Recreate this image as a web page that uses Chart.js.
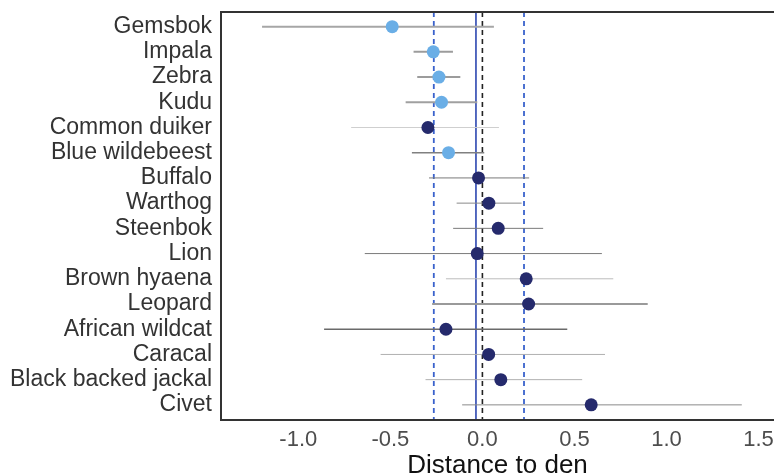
<!DOCTYPE html>
<html><head><meta charset="utf-8">
<script src="https://cdn.jsdelivr.net/npm/chart.js@4.4.0/dist/chart.umd.min.js"></script>
<style>html,body{margin:0;padding:0;background:#fff}#wrap{width:774px;height:476px}</style>
</head><body><div id="wrap"><canvas id="c" width="774" height="476"></canvas></div>
<script>
// ---- data ----
const species = ['Gemsbok','Impala','Zebra','Kudu','Common duiker','Blue wildebeest','Buffalo','Warthog','Steenbok','Lion','Brown hyaena','Leopard','African wildcat','Caracal','Black backed jackal','Civet'];
const estimate = [-0.49,-0.267,-0.236,-0.222,-0.296,-0.184,-0.021,0.035,0.086,-0.028,0.238,0.251,-0.198,0.034,0.10,0.591];
const lower    = [-1.197,-0.374,-0.354,-0.417,-0.713,-0.383,-0.29,-0.14,-0.159,-0.639,-0.198,-0.273,-0.86,-0.553,-0.309,-0.11];
const upper    = [0.0625,-0.16,-0.12,-0.028,0.09,0.01,0.254,0.213,0.33,0.649,0.711,0.898,0.461,0.666,0.542,1.409];
const group    = ['light','light','light','light','dark','light','dark','dark','dark','dark','dark','dark','dark','dark','dark','dark'];
const xTicks   = [-1.0,-0.5,0.0,0.5,1.0,1.5];
const refMean  = -0.035;
const refLower = -0.264;
const refUpper = 0.226;
const nullLine = 0;
const axisTitle = 'Distance to den';

// ---- styles ----
const groupColor = {light:'#6aaee6', dark:'#252a6c'};
const whiskerColor = ['#a6a6a6','#9c9c9c','#9c9c9c','#a0a0a0','#cfcfcf','#808080','#7a7a7a','#8a8a8a','#7a7a7a','#7a7a7a','#bdbdbd','#9a9a9a','#6a6a6a','#b0b0b0','#b0b0b0','#8a8a8a'];
const whiskerWidth = [2,2,2,2,1,1.5,1,1,1,1,1,2,1.5,1,1,1];

const overlay = {
  id:'overlay',
  beforeDatasetsDraw(chart){
    const {ctx, chartArea:a, scales:{x,y}} = chart;
    ctx.save();
    ctx.beginPath(); ctx.rect(a.left,a.top,a.right-a.left,a.bottom-a.top); ctx.clip();
    const vline = (v,color,dash,w)=>{
      const px = x.getPixelForValue(v);
      ctx.beginPath(); ctx.setLineDash(dash); ctx.strokeStyle=color; ctx.lineWidth=w;
      ctx.moveTo(px,a.top); ctx.lineTo(px,a.bottom); ctx.stroke();
    };
    vline(refLower,'#3a62cc',[5,4],1.8);
    vline(refUpper,'#3a62cc',[5,4],1.8);
    vline(nullLine,'#222222',[5,4],1.6);
    vline(refMean,'#2c46b0',[],1.6);
    ctx.setLineDash([]);
    species.forEach((s,i)=>{
      const py = y.getPixelForValue(i);
      ctx.beginPath(); ctx.strokeStyle = whiskerColor[i]; ctx.lineWidth = whiskerWidth[i];
      ctx.moveTo(x.getPixelForValue(lower[i]),py); ctx.lineTo(x.getPixelForValue(upper[i]),py); ctx.stroke();
    });
    ctx.restore();
  },
  afterDraw(chart){
    const {ctx, chartArea:a} = chart;
    ctx.save();
    ctx.strokeStyle='#333'; ctx.lineWidth=2;
    ctx.beginPath();
    ctx.moveTo(a.right+2,a.top); ctx.lineTo(a.left,a.top); ctx.lineTo(a.left,a.bottom); ctx.lineTo(a.right+2,a.bottom);
    ctx.stroke();
    ctx.restore();
  }
};

new Chart(document.getElementById('c'),{
  type:'scatter',
  data:{datasets:[{
    data: species.map((s,i)=>({x:estimate[i], y:i})),
    pointRadius:6.5, pointHoverRadius:6.5, borderWidth:0,
    pointBackgroundColor: group.map(g=>groupColor[g]),
    pointBorderColor: group.map(g=>groupColor[g])
  }]},
  options:{
    responsive:false, animation:false, devicePixelRatio:1,
    layout:{autoPadding:false, padding:{top:12,right:0,bottom:0,left:0}},
    plugins:{legend:{display:false}, tooltip:{enabled:false}},
    scales:{
      x:{type:'linear', min:-1.42, max:1.584,
        afterBuildTicks:(s)=>{s.ticks = xTicks.map(v=>({value:v}));},
        afterFit:(s)=>{s.height = 56;},
        grid:{display:false, drawTicks:true, tickLength:7}, border:{display:false},
        ticks:{autoSkip:false, maxRotation:0, padding:0, color:'#4d4d4d', font:{family:'Liberation Sans, Arial', size:22}, callback:(v)=>Number(v).toFixed(1)},
        title:{display:true, text:axisTitle, color:'#111', padding:{top:0,bottom:0}, font:{family:'Liberation Sans, Arial', size:26, lineHeight:0.78}}
      },
      y:{type:'linear', reverse:true, min:-0.58, max:15.6,
        afterBuildTicks:(s)=>{s.ticks = species.map((n,i)=>({value:i}));},
        afterFit:(s)=>{s.width = 221;},
        grid:{display:false, drawTicks:true, tickLength:9}, border:{display:false},
        ticks:{autoSkip:false, padding:0, color:'#333', font:{family:'Liberation Sans, Arial', size:23, lineHeight:0.9}, callback:(v)=>species[v]}
      }
    }
  },
  plugins:[overlay]
});
</script></body></html>
